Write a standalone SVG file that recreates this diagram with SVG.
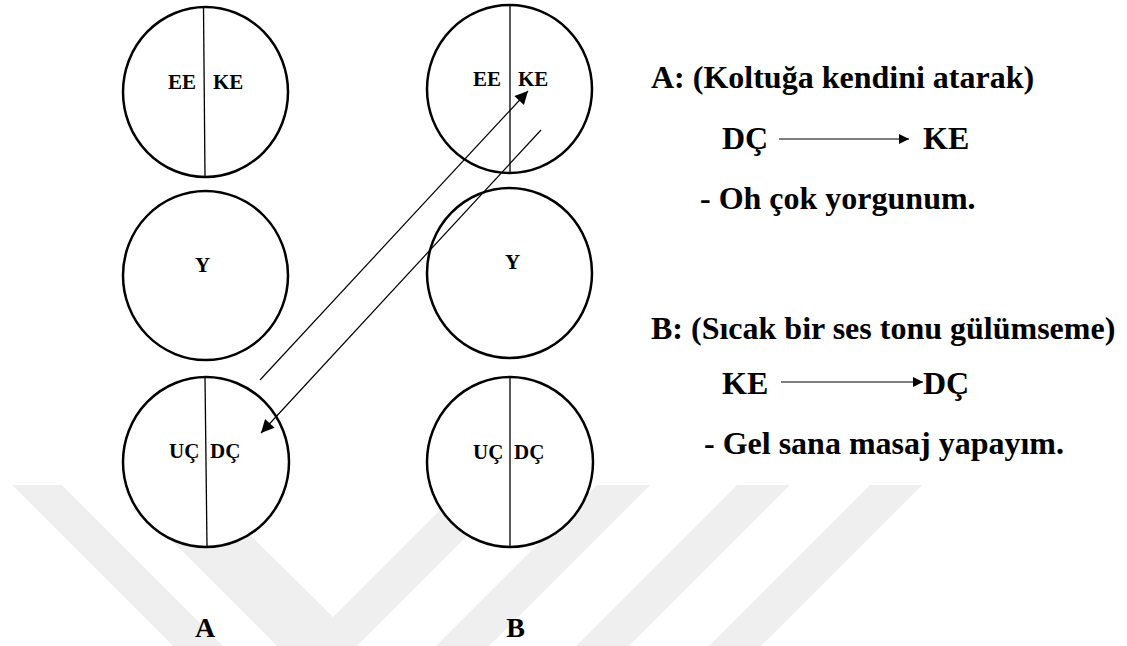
<svg xmlns="http://www.w3.org/2000/svg" width="1127" height="646" viewBox="0 0 1127 646">
<style>
.wm{fill:#efefef;stroke:none}
.circ{fill:#ffffff;stroke:#000;stroke-width:2.5}
.div{stroke:#000;stroke-width:1.3;fill:none}
text{font-family:'Liberation Serif','DejaVu Serif',serif;font-weight:bold;fill:#000}
.lbl{font-size:21px}
.big{font-size:28px}
.txt{font-size:32px}
.con{stroke:#000;stroke-width:1.2;fill:none}
</style>
<defs>
<marker id="ah" viewBox="0 0 10 10" refX="10" refY="5" markerUnits="userSpaceOnUse" markerWidth="17" markerHeight="13" orient="auto">
<path d="M0,0 L10,5 L0,10 z" fill="#000"/>
</marker>
<marker id="ahs" viewBox="0 0 10 10" refX="10" refY="5" markerUnits="userSpaceOnUse" markerWidth="16" markerHeight="10" orient="auto">
<path d="M0,0 L10,5 L0,10 z" fill="#000"/>
</marker>
</defs>
<rect x="0" y="0" width="1127" height="646" fill="#ffffff"/>
<g id="watermark">
<polygon class="wm" points="12,485 62,485 223,646 173,646"/>
<polygon class="wm" points="126,495 210,495 333,617 465,485 518,485 357,646 277,646"/>
<polygon class="wm" points="597,485 650,485 489,646 436,646"/>
<polygon class="wm" points="737,485 790,485 629,646 576,646"/>
<polygon class="wm" points="870,485 922,485 761,646 709,646"/>
</g>
<g id="nodeA1">
<ellipse class="circ" cx="205.5" cy="92" rx="82.5" ry="85"/>
<line class="div" x1="203.5" y1="7" x2="205" y2="177"/>
<text class="lbl" x="168" y="89" font-family="Liberation Serif">EE</text>
<text class="lbl" x="213" y="89" font-family="Liberation Serif">KE</text>
</g>
<g id="nodeA2">
<ellipse class="circ" cx="205.5" cy="275.5" rx="82.5" ry="84.5"/>
<text class="lbl" x="202.5" y="272" text-anchor="middle" font-family="Liberation Serif">Y</text>
</g>
<g id="nodeA3">
<ellipse class="circ" cx="206" cy="462" rx="83" ry="85"/>
<line class="div" x1="205" y1="377" x2="207" y2="547"/>
<text class="lbl" x="169" y="458" font-family="Liberation Serif">UÇ</text>
<text class="lbl" x="210" y="458" font-family="Liberation Serif">DÇ</text>
</g>
<g id="nodeB1">
<ellipse class="circ" cx="509.5" cy="89" rx="82.5" ry="84"/>
<line class="div" x1="510" y1="5" x2="510" y2="173"/>
<text class="lbl" x="473" y="86" font-family="Liberation Serif">EE</text>
<text class="lbl" x="518" y="86" font-family="Liberation Serif">KE</text>
</g>
<g id="nodeB2">
<ellipse class="circ" cx="509.5" cy="273" rx="82.5" ry="85"/>
<text class="lbl" x="512.5" y="269" text-anchor="middle" font-family="Liberation Serif">Y</text>
</g>
<g id="nodeB3">
<ellipse class="circ" cx="510" cy="462" rx="83" ry="85"/>
<line class="div" x1="510" y1="377" x2="510" y2="547"/>
<text class="lbl" x="473" y="459" font-family="Liberation Serif">UÇ</text>
<text class="lbl" x="514" y="459" font-family="Liberation Serif">DÇ</text>
</g>
<g id="captions">
<text class="big" x="205" y="637" text-anchor="middle" font-family="Liberation Serif">A</text>
<text class="big" x="515.5" y="637" text-anchor="middle" font-family="Liberation Serif">B</text>
</g>
<g id="connectors">
<line class="con" x1="260" y1="380" x2="528" y2="91" marker-end="url(#ah)"/>
<line class="con" x1="541" y1="130" x2="261" y2="433" marker-end="url(#ah)"/>
<line class="con" x1="779" y1="139" x2="909" y2="139" marker-end="url(#ahs)"/>
<line class="con" x1="781" y1="382" x2="923" y2="382" marker-end="url(#ahs)"/>
</g>
<g id="dialogue">
<text class="txt" x="651" y="88" font-family="Liberation Serif">A: (Koltuğa kendini atarak)</text>
<text class="txt" x="722" y="149" font-family="Liberation Serif">DÇ</text>
<text class="txt" x="923" y="149" font-family="Liberation Serif">KE</text>
<text class="txt" x="700" y="209" font-family="Liberation Serif">- Oh çok yorgunum.</text>
<text class="txt" x="651" y="339" font-family="Liberation Serif">B: (Sıcak bir ses tonu gülümseme)</text>
<text class="txt" x="722" y="394" font-family="Liberation Serif">KE</text>
<text class="txt" x="923" y="394" font-family="Liberation Serif">DÇ</text>
<text class="txt" x="704" y="454" font-family="Liberation Serif">- Gel sana masaj yapayım.</text>
</g>
</svg>
